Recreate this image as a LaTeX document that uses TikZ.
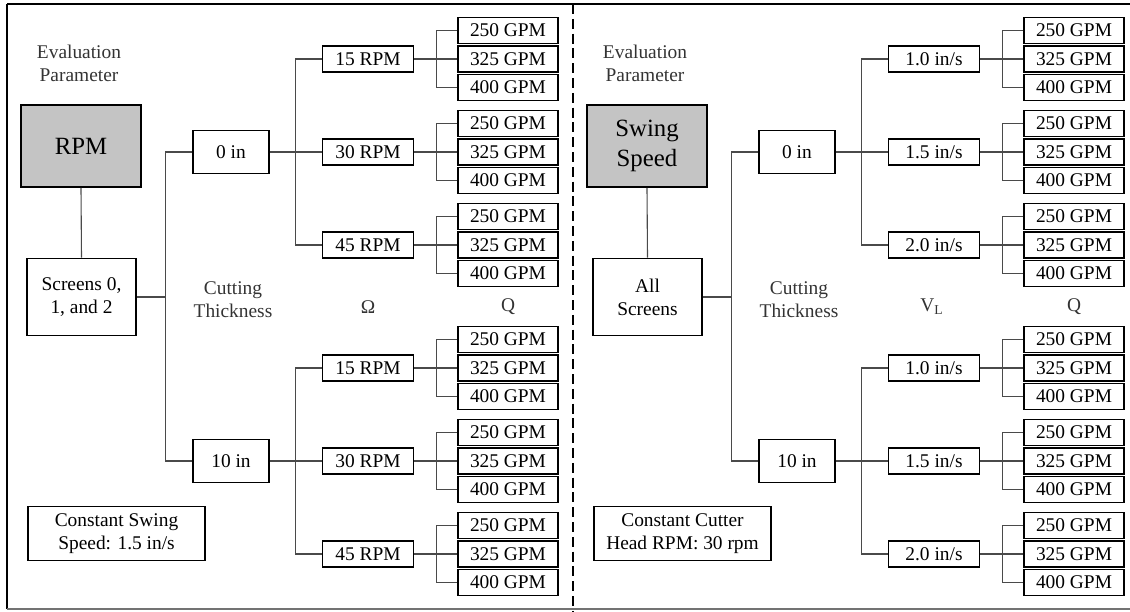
\documentclass[tikz,border=0pt]{standalone}
\usepackage{fontspec}
\setmainfont{Liberation Serif}
\usetikzlibrary{positioning,calc}
\definecolor{boxfill}{HTML}{C4C4C4}
\definecolor{wire}{HTML}{4A4A4A}
\definecolor{muted}{HTML}{333333}
\tikzset{
  box/.style   ={draw=black, line width=0.8pt, fill=white, align=center, inner sep=0pt,
                 font=\fontsize{9.7}{11.6}\selectfont},
  parbox/.style={box, fill=boxfill, minimum width=60pt, minimum height=41pt,
                 font=\fontsize{12.4}{15.4}\selectfont},
  scr/.style   ={box, minimum width=54.5pt, minimum height=38.5pt},
  thk/.style   ={box, minimum width=38pt, minimum height=21.5pt},
  spd/.style   ={box, minimum width=45.5pt, minimum height=13pt},
  gpm/.style   ={box, minimum width=50pt, minimum height=13pt},
  cst/.style   ={box, minimum width=88.5pt, minimum height=27pt},
  lbl/.style   ={align=center, text=muted, inner sep=0pt, font=\fontsize{9.7}{11.6}\selectfont},
  ln/.style    ={draw=wire, line width=0.55pt},
}

\begin{document}
\begin{tikzpicture}[x=0.5pt,y=-0.5pt]
  % image grid: 1 unit = 1 px, y runs downwards
  \useasboundingbox (0,0) rectangle (1130,611);
  \def\pa{0}     % panel a offset
  \def\pb{566}   % panel b offset

  % ---------------- frame and divider ----------------------------------------
  \coordinate (ftl) at (7,4);
  \coordinate (fbl) at (7,609);
  \coordinate (ftr) at (1130,4);
  \coordinate (fbr) at (1130,609);
  \draw[line width=1.2pt] (ftl) -- (fbl);
  \draw[line width=0.8pt] (ftl) -- (ftr);
  \draw[line width=0.8pt, black!55] (fbl) -- (fbr);
  \coordinate (dvt) at (573,4);
  \coordinate (dvb) at (573,611);
  \draw[line width=1.2pt, dash pattern=on 5pt off 2.4pt] (dvt) -- (dvb);

  % ---------------- panel a: cutter head speed -------------------------------
  \node[lbl]    (aev)  at (\pa+79,63)    {Evaluation\\Parameter};
  \node[parbox] (apar) at (\pa+81,146)   {RPM};
  \node[scr]    (ascr) at (\pa+81.5,297) {Screens 0,\\1, and 2};
  \node[thk]    (at1)  at (\pa+231,152)  {0 in};
  \node[thk]    (at2)  at (\pa+231,461)  {10 in};
  \node[lbl]    (act)  at (\pa+233,300)  {Cutting\\Thickness};
  \node[lbl]    (aom)  at (\pa+368,307)  {Ω};
  \node[lbl]    (aqq)  at (\pa+508,307)  {Q};
  \node[cst]    (acst) at (\pa+116.5,533.5) {Constant Swing\\Speed: 1.5 in/s};
  \foreach \g/\y/\v in {1/59/15, 2/152/30, 3/245/45, 4/368/15, 5/461/30, 6/554/45}
    \node[spd] (as\g) at (\pa+368,\y) {\v\ RPM};
  \foreach \g/\y in {1/59, 2/152, 3/245, 4/368, 5/461, 6/554}
    \foreach \k/\q in {1/250, 2/325, 3/400}
      \node[gpm] (aq\g\k) at (\pa+508,\y+28.5*\k-57) {\q\ GPM};

  \draw[ln] (apar.south) -- (ascr.north);
  \foreach \t in {at1, at2} \draw[ln] (\t.west) -- ++(-27,0) |- (ascr.east);
  \foreach \t/\a/\b/\c in {at1/as1/as2/as3, at2/as4/as5/as6} {
    \draw[ln] (\t.east) -- (\b.west);
    \draw[ln] (\a.west) -- ++(-26,0) |- (\t.east);
    \draw[ln] (\c.west) -- ++(-26,0) |- (\t.east);
  }
  \foreach \g in {1,...,6} {
    \draw[ln] (as\g.east) -- (aq\g2.west);
    \draw[ln] (aq\g1.west) -- ++(-21,0) |- (as\g.east);
    \draw[ln] (aq\g3.west) -- ++(-21,0) |- (as\g.east);
  }

  % ---------------- panel b: swing speed -------------------------------------
  \node[lbl]    (bev)  at (\pb+79,63)    {Evaluation\\Parameter};
  \node[parbox] (bpar) at (\pb+81,146)   {Swing\\Speed};
  \node[scr]    (bscr) at (\pb+81.5,297) {All\\Screens};
  \node[thk]    (bt1)  at (\pb+231,152)  {0 in};
  \node[thk]    (bt2)  at (\pb+231,461)  {10 in};
  \node[lbl]    (bct)  at (\pb+233,300)  {Cutting\\Thickness};
  \node[lbl]    (bvl)  at (\pb+366,307)  {V\textsubscript{L}};
  \node[lbl]    (bqq)  at (\pb+508,307)  {Q};
  \node[cst]    (bcst) at (\pb+116.5,533.5) {Constant Cutter\\Head RPM: 30 rpm};
  \foreach \g/\y/\v in {1/59/1.0, 2/152/1.5, 3/245/2.0, 4/368/1.0, 5/461/1.5, 6/554/2.0}
    \node[spd] (bs\g) at (\pb+368,\y) {\v\ in/s};
  \foreach \g/\y in {1/59, 2/152, 3/245, 4/368, 5/461, 6/554}
    \foreach \k/\q in {1/250, 2/325, 3/400}
      \node[gpm] (bq\g\k) at (\pb+508,\y+28.5*\k-57) {\q\ GPM};

  \draw[ln] (bpar.south) -- (bscr.north);
  \foreach \t in {bt1, bt2} \draw[ln] (\t.west) -- ++(-27,0) |- (bscr.east);
  \foreach \t/\a/\b/\c in {bt1/bs1/bs2/bs3, bt2/bs4/bs5/bs6} {
    \draw[ln] (\t.east) -- (\b.west);
    \draw[ln] (\a.west) -- ++(-26,0) |- (\t.east);
    \draw[ln] (\c.west) -- ++(-26,0) |- (\t.east);
  }
  \foreach \g in {1,...,6} {
    \draw[ln] (bs\g.east) -- (bq\g2.west);
    \draw[ln] (bq\g1.west) -- ++(-21,0) |- (bs\g.east);
    \draw[ln] (bq\g3.west) -- ++(-21,0) |- (bs\g.east);
  }
\end{tikzpicture}
\end{document}
